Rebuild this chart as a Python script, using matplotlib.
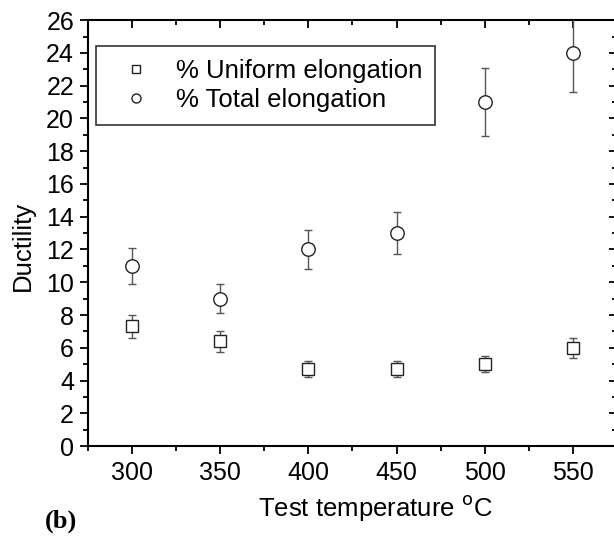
import matplotlib
matplotlib.use("Agg")
import matplotlib.pyplot as plt
from matplotlib.lines import Line2D
from matplotlib.ticker import MultipleLocator

plt.rcParams['font.family'] = ['Liberation Sans', 'DejaVu Sans']

temps = [300, 350, 400, 450, 500, 550]
uniform = [7.3, 6.4, 4.7, 4.7, 5.0, 6.0]
uniform_err = [0.73, 0.64, 0.47, 0.47, 0.5, 0.6]
total = [11, 9, 12, 13, 21, 24]
total_err = [1.1, 0.9, 1.2, 1.3, 2.1, 2.4]

fig = plt.figure(figsize=(6.14, 5.39), dpi=100)
ax = fig.add_axes([0.1433, 0.1725, 0.8616, 0.790])

ebc = "#555555"
mec = "#222222"
ax.errorbar(temps, uniform, yerr=uniform_err, fmt="s", ms=8.5, mfc="white",
            mec=mec, mew=1.0, ecolor=ebc, elinewidth=1.0, capsize=3.2,
            capthick=1.0, zorder=3)
ax.errorbar(temps, total, yerr=total_err, fmt="o", ms=9.7, mfc="white",
            mec=mec, mew=1.0, ecolor=ebc, elinewidth=1.0, capsize=3.2,
            capthick=1.0, zorder=3)

ax.set_xlim(275, 575)
ax.set_ylim(0, 26)
ax.xaxis.set_major_locator(MultipleLocator(50))
ax.xaxis.set_minor_locator(MultipleLocator(25))
ax.yaxis.set_major_locator(MultipleLocator(2))
ax.yaxis.set_minor_locator(MultipleLocator(1))

for s in ax.spines.values():
    s.set_linewidth(1.5)

ax.tick_params(which="both", top=True, right=True, width=1.3, labelsize=18)
ax.tick_params(axis="x", which="both", direction="out", pad=5)
ax.tick_params(axis="y", which="both", direction="out", pad=4)
ax.tick_params(which="major", length=6)
ax.tick_params(which="minor", length=3.5)
# top/right ticks point inward
for t in ax.xaxis.get_major_ticks() + ax.xaxis.get_minor_ticks():
    t.tick2line.set_marker(3)
for t in ax.yaxis.get_major_ticks() + ax.yaxis.get_minor_ticks():
    t.tick2line.set_marker(0)

ax.set_xlabel("Test temperature $^{\\mathrm{o}}$C", fontsize=18.5)
ax.xaxis.set_label_coords(0.544, -0.11)
ax.set_ylabel("Ductility", fontsize=18.5)
ax.yaxis.set_label_coords(-0.10, 0.47)

handles = [
    Line2D([], [], ls="none", marker="s", ms=6, mfc="white", mec=mec, mew=1.0),
    Line2D([], [], ls="none", marker="o", ms=6.5, mfc="white", mec=mec, mew=1.0),
]
labels = ["% Uniform elongation", "% Total elongation"]
leg = ax.legend(handles, labels, loc="upper left", bbox_to_anchor=(0.015, 0.94),
                borderaxespad=0, fontsize=18.5, frameon=True, fancybox=False,
                edgecolor="black", handletextpad=0.5, borderpad=0.5,
                labelspacing=0.2, handlelength=2.1)
leg.get_frame().set_linewidth(1.2)

fig.text(0.073, 0.022, "(b)", fontsize=19, fontweight="bold",
         family=["Liberation Serif", "DejaVu Serif"])

fig.savefig("out.png", dpi=100)
